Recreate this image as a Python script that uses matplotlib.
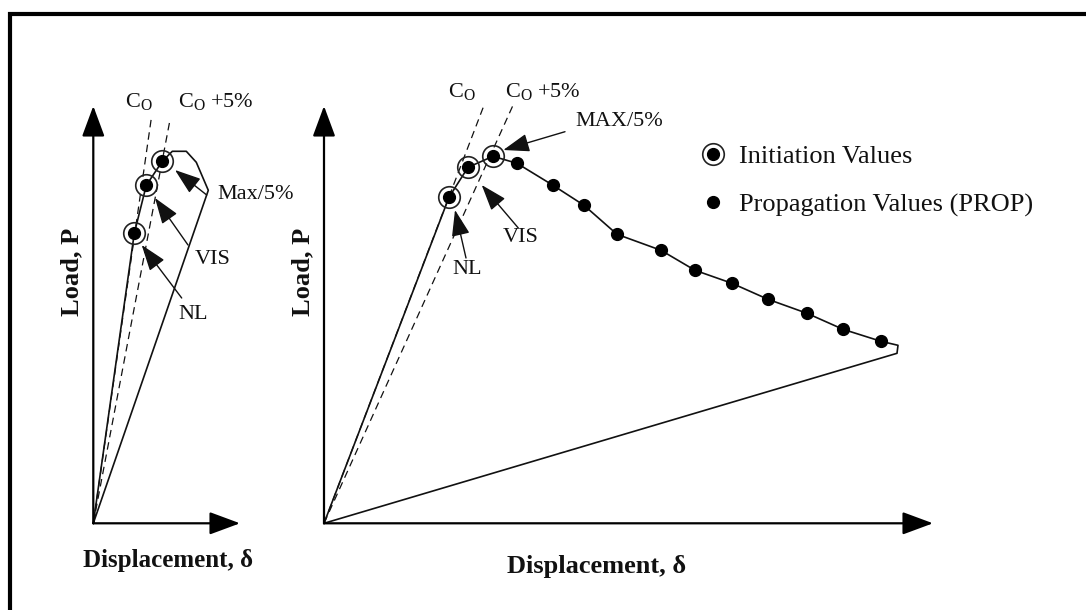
import matplotlib
matplotlib.use("Agg")
import matplotlib.pyplot as plt
from matplotlib.patches import Rectangle
from matplotlib.lines import Line2D

plt.rcParams['font.family'] = ['Liberation Serif', 'DejaVu Serif']
plt.rcParams['mathtext.fontset'] = 'custom'
plt.rcParams['mathtext.rm'] = 'Liberation Serif'
plt.rcParams['mathtext.it'] = 'Liberation Serif:italic'
plt.rcParams['mathtext.bf'] = 'Liberation Serif:bold'

# ---------------- data (arbitrary units: displacement, load) ----------------
# Left (small) specimen
left_curve_disp = [0, 0.41, 0.53, 0.69, 0.79, 0.93, 1.03, 1.15, 0]
left_curve_load = [0, 2.90, 3.38, 3.62, 3.72, 3.72, 3.61, 3.33, 0]
left_init_disp = [0.41, 0.53, 0.69]          # NL, VIS, Max/5%
left_init_load = [2.90, 3.38, 3.62]
left_co_disp = [0, 0.58]
left_co_load = [0, 4.05]
left_co5_disp = [0, 0.77]
left_co5_load = [0, 4.05]

# Right (large) specimen
right_init_disp = [1.25, 1.44, 1.69]         # NL, VIS, MAX/5%
right_init_load = [3.26, 3.56, 3.67]
right_prop_disp = [1.93, 2.29, 2.60, 2.93, 3.37, 3.71, 4.08, 4.44, 4.83, 5.19, 5.57]
right_prop_load = [3.60, 3.38, 3.18, 2.89, 2.73, 2.53, 2.40, 2.24, 2.10, 1.94, 1.82]
right_unload_disp = [5.74, 5.73, 0]
right_unload_load = [1.78, 1.70, 0]
right_co_disp = [0, 1.60]
right_co_load = [0, 4.18]
right_co5_disp = [0, 1.89]
right_co5_load = [0, 4.18]

init_labels_left = ["NL", "VIS", "Max/5%"]
init_labels_right = ["NL", "VIS", "MAX/5%"]
legend_labels = ["Initiation Values", "Propagation Values (PROP)"]
x_label = "Displacement, δ"
y_label = "Load, P"

# ---------------- figure ----------------
W, H = 1086, 610
fig = plt.figure(figsize=(W / 100, H / 100), dpi=100)
fig.patch.set_facecolor('white')

TXT = '#111'
LINE = '#111'


def panel(ox, oy):
    ax = fig.add_axes([0, 0, 1, 1])
    ax.set_xlim(-ox / 100, (W - ox) / 100)
    ax.set_ylim(-(H - oy) / 100, oy / 100)
    ax.axis('off')
    ax.patch.set_alpha(0)
    return ax


def axis_arrows(ax, xtip, ytip):
    style = '-|>,head_length=1.35,head_width=0.5'
    for tip in [(xtip, 0), (0, ytip)]:
        ax.annotate('', xy=tip, xytext=(0, 0),
                    arrowprops=dict(arrowstyle=style, color='black', lw=1.6,
                                    mutation_scale=14, shrinkA=0, shrinkB=0))


def label_arrow(ax, text, tail, tip, textpos):
    ax.annotate('', xy=tip, xytext=tail,
                arrowprops=dict(arrowstyle='-|>,head_length=1.2,head_width=0.42',
                                color=LINE, lw=1.0, mutation_scale=13.5,
                                shrinkA=0, shrinkB=0))
    ax.text(textpos[0], textpos[1], text, fontsize=16, color=TXT,
            ha='left', va='center')


dash = (0, (6, 4))

# ---------------- left panel ----------------
axL = panel(93.3, 523.3)
axis_arrows(axL, 1.467, 4.173)
axL.plot(left_co_disp, left_co_load, color=LINE, lw=0.9, ls=dash)
axL.plot(left_co5_disp, left_co5_load, color=LINE, lw=0.9, ls=dash)
axL.plot(left_curve_disp, left_curve_load, color=LINE, lw=1.2)
axL.plot(left_init_disp, left_init_load, 'o', ms=15.5, mfc='none', mec='#222', mew=1.2)
axL.plot(left_init_disp, left_init_load, 'o', ms=8.5, color='k')
axL.text(0.317, 4.213, r'C$_{\mathrm{O}}$', fontsize=16, color=TXT, ha='left', va='center')
axL.text(0.847, 4.213, r'C$_{\mathrm{O}}$ +5%', fontsize=16, color=TXT, ha='left', va='center')
label_arrow(axL, init_labels_left[2], (1.134, 3.283), (0.817, 3.533), (1.237, 3.283))
label_arrow(axL, init_labels_left[1], (0.947, 2.783), (0.617, 3.253), (1.017, 2.633))
label_arrow(axL, init_labels_left[0], (0.884, 2.253), (0.484, 2.783), (0.847, 2.083))

# ---------------- right panel ----------------
axR = panel(324.0, 523.3)
axis_arrows(axR, 6.09, 4.173)
axR.plot(right_co_disp, right_co_load, color=LINE, lw=0.9, ls=dash)
axR.plot(right_co5_disp, right_co5_load, color=LINE, lw=0.9, ls=dash)
curve_d = [0] + right_init_disp + right_prop_disp + right_unload_disp
curve_l = [0] + right_init_load + right_prop_load + right_unload_load
axR.plot(curve_d, curve_l, color=LINE, lw=1.2)
axR.plot(right_init_disp, right_init_load, 'o', ms=15.5, mfc='none', mec='#222', mew=1.2)
axR.plot(right_init_disp, right_init_load, 'o', ms=8.5, color='k')
axR.plot(right_prop_disp, right_prop_load, 'o', ms=8.5, color='k')
axR.text(1.24, 4.313, r'C$_{\mathrm{O}}$', fontsize=16, color=TXT, ha='left', va='center')
axR.text(1.81, 4.313, r'C$_{\mathrm{O}}$ +5%', fontsize=16, color=TXT, ha='left', va='center')
label_arrow(axR, init_labels_right[2], (2.41, 3.916), (1.793, 3.733), (2.51, 4.016))
label_arrow(axR, init_labels_right[1], (1.943, 2.953), (1.577, 3.383), (1.79, 2.853))
label_arrow(axR, init_labels_right[0], (1.42, 2.653), (1.31, 3.133), (1.28, 2.533))

# legend
h_ring = Line2D([], [], ls='none', marker='o', ms=15.5, mfc='none', mec='#222', mew=1.2)
h_dot = Line2D([], [], ls='none', marker='o', ms=8.5, color='k')
h_prop = Line2D([], [], ls='none', marker='o', ms=8.5, color='k')
fig.legend([(h_ring, h_dot), h_prop], legend_labels, loc='upper left',
           bbox_to_anchor=(700.5 / W, 1 - 145 / H), frameon=False, fontsize=19,
           handlelength=0.95, handletextpad=0.5, labelspacing=0.93,
           borderpad=0, borderaxespad=0, labelcolor=TXT)

# axis labels
fig.text(72 / W, 1 - 272 / H, y_label, rotation=90, fontsize=19, fontweight='bold',
         color=TXT, ha='center', va='center')
fig.text(303 / W, 1 - 272 / H, y_label, rotation=90, fontsize=19, fontweight='bold',
         color=TXT, ha='center', va='center')
fig.text(168 / W, 1 - 561 / H, x_label, fontsize=18, fontweight='bold',
         color=TXT, ha='center', va='center')
fig.text(597 / W, 1 - 566 / H, x_label, fontsize=19, fontweight='bold',
         color=TXT, ha='center', va='center')

# outer frame (only left and top edges visible)
fig.patches.append(Rectangle((9.5 / W, -0.1), 1.2, 1 - 14 / H + 0.1,
                             transform=fig.transFigure, fill=False,
                             ec='black', lw=3.0))

fig.savefig('out.png', dpi=100)
